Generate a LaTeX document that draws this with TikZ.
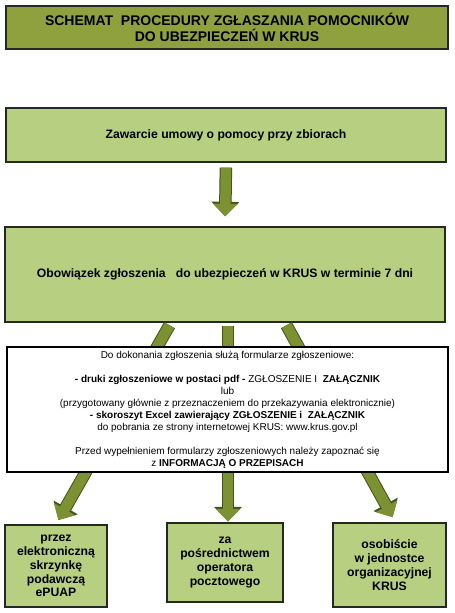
\documentclass[tikz,border=0pt]{standalone}
\usepackage{fontspec}
\setmainfont{Liberation Sans}
\usepackage{tikz}
\usetikzlibrary{arrows.meta,positioning}

\definecolor{titlegreen}{RGB}{142,161,62}
\definecolor{boxgreen}{RGB}{183,207,128}
\definecolor{arrowfill}{RGB}{123,145,50}
\definecolor{arrowedge}{RGB}{68,82,28}
\definecolor{boxedge}{RGB}{38,40,34}

\begin{document}
\begin{tikzpicture}[x=1pt,y=-1pt,
  greenbox/.style={draw=boxedge,line width=1.3pt,fill=boxgreen,align=center,inner sep=2pt},
  bigarrow/.style={draw=arrowfill,line width=10.5pt,-{Triangle[width=24pt,length=12.5pt]},
    preaction={draw=arrowedge,line width=12.5pt,-{Triangle[width=27pt,length=14.5pt]}}}]
\useasboundingbox (0,0) rectangle (455,613);
\node[greenbox,fill=titlegreen,minimum width=442pt,minimum height=43pt,font=\fontsize{14}{16.5}\selectfont\bfseries] (title) at (227,27.5) {SCHEMAT\ \ PROCEDURY ZGŁASZANIA POMOCNIKÓW\\DO UBEZPIECZEŃ W KRUS};
\node[greenbox,minimum width=440pt,minimum height=54pt,font=\fontsize{12.2}{14}\selectfont\bfseries] (umowa) at (226,135) {Zawarcie umowy o pomocy przy zbiorach};
\node[greenbox,minimum width=440pt,minimum height=95pt,font=\fontsize{12.2}{14}\selectfont\bfseries] (obowiazek) at (225,274.5) {Obowiązek zgłoszenia\ \ \ do ubezpieczeń w KRUS w terminie 7 dni};
% sposoby zgloszenia
\node[greenbox,minimum width=102pt,minimum height=82pt,font=\fontsize{12.2}{13.8}\selectfont\bfseries] (epuap) at (56,566) {przez\\elektroniczną\\skrzynkę\\podawczą\\ePUAP};
\node[greenbox,minimum width=116pt,minimum height=79pt,font=\fontsize{12.2}{13.8}\selectfont\bfseries] (poczta) at (225,562.5) {za\\pośrednictwem\\operatora\\pocztowego};
\node[greenbox,minimum width=113pt,minimum height=84pt,font=\fontsize{12.2}{13.8}\selectfont\bfseries] (osobiscie) at (389.5,565) {osobiście\\w jednostce\\organizacyjnej\\KRUS};
\draw[bigarrow,shorten <=5pt,shorten >=10pt] (umowa.south)--(obowiazek.north);
\draw[bigarrow,shorten <=3pt,shorten >=5pt] ([xshift=-54pt]obowiazek.south)--(epuap.north);
\draw[bigarrow,shorten <=3pt,shorten >=1pt] ([xshift=3pt]obowiazek.south)--([xshift=3pt]poczta.north);
\draw[bigarrow,shorten <=3pt,shorten >=6pt] ([xshift=60pt]obowiazek.south)--([xshift=6pt]osobiscie.north);
% ramka z formularzami (na strzalkach)
\node[draw=black,line width=1.3pt,fill=white,minimum width=441pt,minimum height=125pt,align=center,font=\fontsize{10}{12}\selectfont,inner sep=2pt] (formularze) at (227.5,409.5) {Do dokonania zgłoszenia służą formularze zgłoszeniowe:\\[12pt]
\textbf{- druki zgłoszeniowe w postaci pdf -} ZGŁOSZENIE I\ \ \textbf{ZAŁĄCZNIK}\\
lub\\
(przygotowany głównie z przeznaczeniem do przekazywania elektronicznie)\\
\textbf{- skoroszyt Excel zawierający ZGŁOSZENIE i\ \ ZAŁĄCZNIK}\\
do pobrania ze strony internetowej KRUS: www.krus.gov.pl\\[12pt]
Przed wypełnieniem formularzy zgłoszeniowych należy zapoznać się\\
z \textbf{INFORMACJĄ O PRZEPISACH}};
\end{tikzpicture}
\end{document}
